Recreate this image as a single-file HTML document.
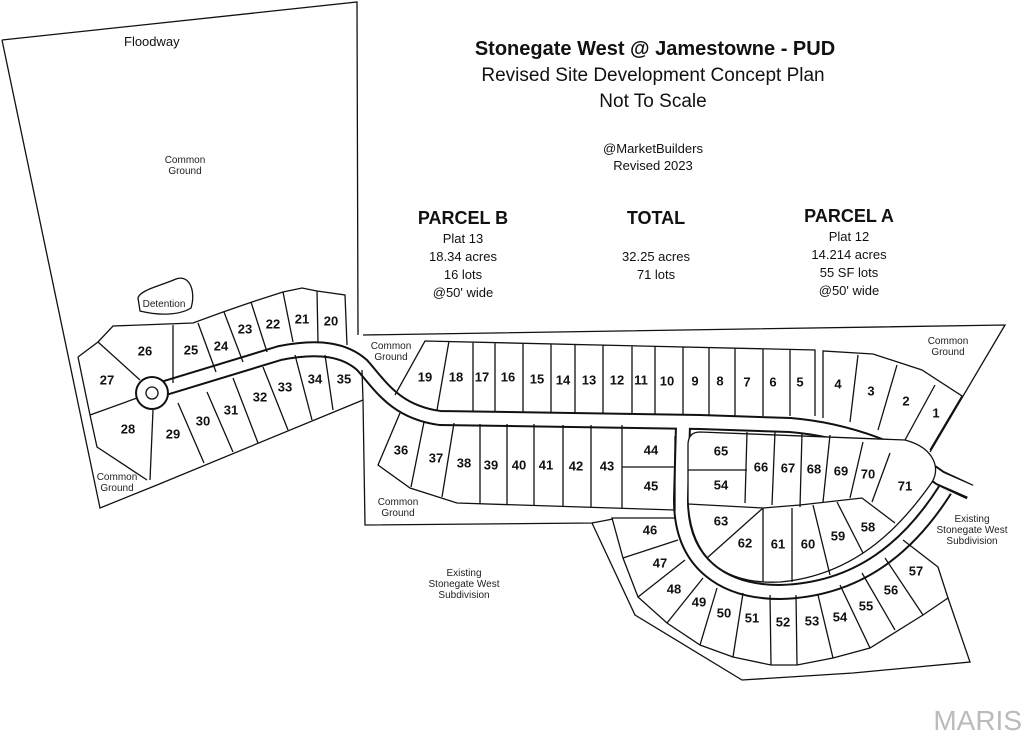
<!DOCTYPE html>
<html><head><meta charset="utf-8"><style>
html,body{margin:0;padding:0;background:#fff;}
svg{display:block;font-family:"Liberation Sans",Arial,sans-serif;}
.n{font-size:13px;font-weight:bold;text-anchor:middle;dominant-baseline:middle;fill:#111;}
.s{font-size:10px;text-anchor:middle;fill:#222;}
.t{text-anchor:middle;fill:#111;}
</style></head><body>
<svg width="1024" height="738" viewBox="0 0 1024 738" xmlns="http://www.w3.org/2000/svg">
<rect width="1024" height="738" fill="#fff"/>
<g fill="none" stroke="#111" stroke-width="1.3">
<path d="M2,40 L357,2 L358,335 M2,40 L100,508 L157,485 L363,400"/>
<path d="M363,335 L1005,325 L930,452"/>
<path d="M363,400 L365,525 L592,523 L613,519"/>
<path d="M592,523 L635,615 L742,680 L853,673 L970,662 L948,598"/>
<path d="M165,388 C200,377 240,365 280,353 C320,345 345,350 362,365 C380,385 395,412 440,418 L700,422 L790,425 C850,430 905,452 940,478 L970,492" stroke="#111" stroke-width="16"/>
<path d="M683,425 L681,500 C681,565 725,592 780,592 C860,590 910,545 945,490" stroke="#111" stroke-width="16"/>
<path d="M165,388 C200,377 240,365 280,353 C320,345 345,350 362,365 C380,385 395,412 440,418 L700,422 L790,425 C850,430 905,452 940,478 L972,492" stroke="#fff" stroke-width="12"/>
<path d="M683,425 L681,500 C681,565 725,592 780,592 C860,590 910,545 945,490" stroke="#fff" stroke-width="12"/>
<circle cx="152" cy="393" r="17" fill="#111" stroke="none"/>
<circle cx="152" cy="393" r="15" fill="#fff" stroke="none"/>
<circle cx="152" cy="393" r="6" fill="#fff"/>
<path d="M700,432 L905,440 C935,448 942,470 930,485 C905,520 860,575 780,582 C720,585 690,555 688,500 L688,445 Q688,432 700,432 Z" fill="#fff"/>
<path d="M688,470 L747,470 M747,432 L745,503 M775,432 L772,505 M802,433 L800,507 M830,435 L823,502 M863,442 L850,498 M890,453 L872,502 M688,504 L763,508 L800,505 L862,498 L895,523 M763,508 L707,558 M763,508 L763,582 M792,508 L792,582 M813,505 L830,575 M837,502 L863,553"/>
<path d="M395,395 L425,341 L815,350 L815,416 M449,341 L437,410 M473,342 L473,411 M495,342 L495,411 M523,343 L523,412 M551,344 L551,412 M575,345 L575,413 M603,345 L603,413 M632,346 L632,414 M655,346 L655,414 M683,347 L683,415 M709,348 L709,415 M735,348 L735,416 M763,349 L763,416 M790,350 L790,416"/>
<path d="M823,418 L823,351 L873,354 L922,370 L962,396 L930,450 M858,355 L850,422 M897,365 L878,430 M935,385 L905,440"/>
<path d="M400,413 L378,465 L410,488 L457,503 L675,510 L675,436 M424,422 L411,487 M454,423 L442,497 M480,424 L480,504 M507,424 L507,505 M534,424 L534,506 M563,425 L563,507 M591,425 L591,508 M622,425 L622,509 M622,467 L675,467"/>
<path d="M675,518 L612,518 L623,558 L638,597 L667,623 L700,645 L733,657 L771,665 L797,665 L833,658 L870,648 L923,615 L948,598 L938,567 L903,540"/>
<path d="M623,558 L678,540 M638,597 L685,560 M667,623 L703,578 M700,645 L717,588 M733,657 L743,593 M771,665 L770,595 M797,665 L796,595 M833,658 L818,595 M870,648 L840,585 M895,630 L862,573 M923,615 L885,558"/>
<path d="M173,383 L173,325 M78,357 L98,342 L113,326 L193,323 L223,312 L252,302 L283,292 L302,288 L317,291 L345,295 L347,345 M98,342 L140,380 M198,323 L216,372 M224,312 L243,362 M251,302 L267,352 M283,292 L293,342 M317,291 L318,342"/>
<path d="M78,357 L90,415 L97,447 L147,480 M90,415 L137,398 M153,410 L150,480 M178,403 L204,463 M207,392 L233,452 M233,378 L258,443 M263,367 L288,430 M295,355 L312,420 M325,355 L333,410 M362,370 L363,400"/>
<path d="M138,298 C140,290 160,286 176,279 C190,274 196,292 191,308 C180,315 160,316 140,311 Z"/>
</g>
<text class="t" x="655" y="55" font-size="20" font-weight="bold">Stonegate West @ Jamestowne - PUD</text>
<text class="t" x="653" y="81" font-size="19">Revised Site Development Concept Plan</text>
<text class="t" x="653" y="107" font-size="19">Not To Scale</text>
<text class="t" x="653" y="153" font-size="13">@MarketBuilders</text>
<text class="t" x="653" y="170" font-size="13">Revised 2023</text>
<g class="t" font-size="13">
<text x="463" y="224" font-size="18" font-weight="bold">PARCEL B</text>
<text x="463" y="243">Plat 13</text><text x="463" y="261">18.34 acres</text><text x="463" y="279">16 lots</text><text x="463" y="297">@50' wide</text>
<text x="656" y="224" font-size="18" font-weight="bold">TOTAL</text>
<text x="656" y="261">32.25 acres</text><text x="656" y="279">71 lots</text>
<text x="849" y="222" font-size="18" font-weight="bold">PARCEL A</text>
<text x="849" y="241">Plat 12</text><text x="849" y="259">14.214 acres</text><text x="849" y="277">55 SF lots</text><text x="849" y="295">@50' wide</text>
</g>
<text x="124" y="46" font-size="13" fill="#111">Floodway</text>
<g class="s">
<text x="185" y="163">Common</text><text x="185" y="174">Ground</text>
<text x="164" y="307">Detention</text>
<text x="391" y="349">Common</text><text x="391" y="360">Ground</text>
<text x="948" y="344">Common</text><text x="948" y="355">Ground</text>
<text x="117" y="480">Common</text><text x="117" y="491">Ground</text>
<text x="398" y="505">Common</text><text x="398" y="516">Ground</text>
<text x="464" y="576">Existing</text><text x="464" y="587">Stonegate West</text><text x="464" y="598">Subdivision</text>
<text x="972" y="522">Existing</text><text x="972" y="533">Stonegate West</text><text x="972" y="544">Subdivision</text>
</g>
<g class="n">
<text x="425" y="378">19</text><text x="456" y="378">18</text><text x="482" y="378">17</text><text x="508" y="378">16</text><text x="537" y="380">15</text><text x="563" y="381">14</text><text x="589" y="381">13</text><text x="617" y="381">12</text><text x="641" y="381">11</text><text x="667" y="382">10</text><text x="695" y="382">9</text><text x="720" y="382">8</text><text x="747" y="383">7</text><text x="773" y="383">6</text><text x="800" y="383">5</text><text x="838" y="385">4</text><text x="871" y="392">3</text><text x="906" y="402">2</text><text x="936" y="414">1</text>
<text x="331" y="322">20</text><text x="302" y="320">21</text><text x="273" y="325">22</text><text x="245" y="330">23</text><text x="221" y="347">24</text><text x="191" y="351">25</text><text x="145" y="352">26</text><text x="107" y="381">27</text><text x="128" y="430">28</text><text x="173" y="435">29</text><text x="203" y="422">30</text><text x="231" y="411">31</text><text x="260" y="398">32</text><text x="285" y="388">33</text><text x="315" y="380">34</text><text x="344" y="380">35</text>
<text x="401" y="451">36</text><text x="436" y="459">37</text><text x="464" y="464">38</text><text x="491" y="466">39</text><text x="519" y="466">40</text><text x="546" y="466">41</text><text x="576" y="467">42</text><text x="607" y="467">43</text><text x="651" y="451">44</text><text x="651" y="487">45</text>
<text x="721" y="452">65</text><text x="721" y="486">54</text><text x="761" y="468">66</text><text x="788" y="469">67</text><text x="814" y="470">68</text><text x="841" y="472">69</text><text x="868" y="475">70</text><text x="905" y="487">71</text><text x="721" y="522">63</text><text x="745" y="544">62</text><text x="778" y="545">61</text><text x="808" y="545">60</text><text x="838" y="537">59</text><text x="868" y="528">58</text>
<text x="650" y="531">46</text><text x="660" y="564">47</text><text x="674" y="590">48</text><text x="699" y="603">49</text><text x="724" y="614">50</text><text x="752" y="619">51</text><text x="783" y="623">52</text><text x="812" y="622">53</text><text x="840" y="618">54</text><text x="866" y="607">55</text><text x="891" y="591">56</text><text x="916" y="572">57</text>
</g>
<text x="1022" y="730" font-size="28" fill="#bbb" text-anchor="end">MARIS</text>
</svg>
</body></html>
